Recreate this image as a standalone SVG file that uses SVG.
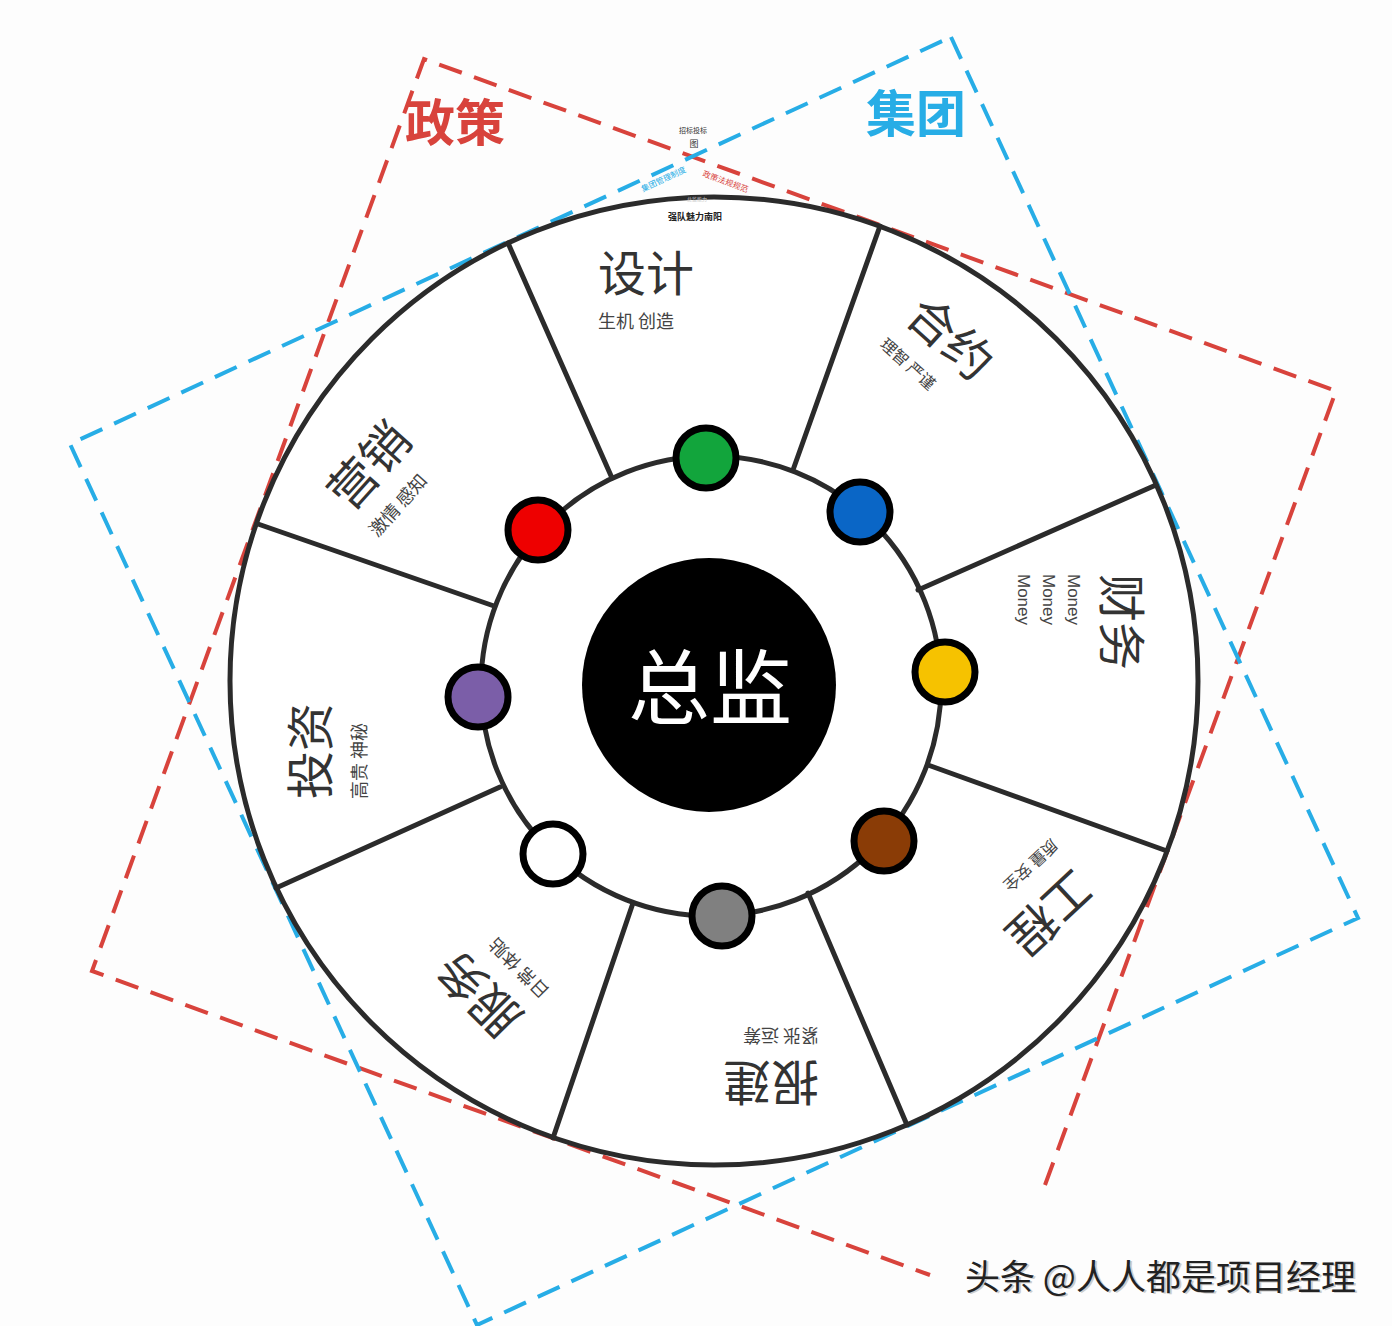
<svg xmlns="http://www.w3.org/2000/svg" width="1392" height="1326" viewBox="0 0 1392 1326">
<style>
.cjk{font-family:"Noto Sans CJK SC","Noto Sans",sans-serif}
.main{font-size:48px;fill:#333}
.sub{font-size:18px;fill:#444}
.sub16{font-size:16px;fill:#444}
.lat{font-family:"Liberation Sans",Arial,sans-serif;font-size:17px;fill:#444}
.spoke{stroke:#2b2b2b;stroke-width:5;stroke-linecap:round}
.dot{stroke:#000;stroke-width:7}
.red{fill:none;stroke:#d8433c;stroke-width:4;stroke-dasharray:24 13}
.blue{fill:none;stroke:#27ade6;stroke-width:4;stroke-dasharray:24 13}
</style>
<rect width="1392" height="1326" fill="#fdfdfd"/>
<g id="frames">
<path class="red" d="M1045 1185 L1336 391 L424 59 L92 971 L930 1275"/>
<path class="blue" d="M951 37 L1358 918 L477 1325 L70 444 Z"/>
</g>
<g id="frame-labels" class="cjk">
<text x="405" y="141" style="font-size:50px;font-weight:bold;fill:#d8433c">政策</text>
<text x="866" y="132" style="font-size:50px;font-weight:bold;fill:#27ade6">集团</text>
<text x="693" y="133" text-anchor="middle" style="font-size:7px;fill:#333">招标投标</text>
<text x="694" y="147" text-anchor="middle" style="font-size:9px;fill:#333">图</text>
<text transform="translate(643,192) rotate(-25)" style="font-size:8px;fill:#27ade6">集团管理制度</text>
<text transform="translate(702,176) rotate(20)" style="font-size:8px;fill:#d8433c">政策法规规范</text>
</g>
<g id="wheel">
<circle cx="714" cy="681" r="484" fill="#fff" stroke="#2b2b2b" stroke-width="5"/>
<circle cx="711" cy="686" r="230" fill="#fff" stroke="#2b2b2b" stroke-width="5"/>
<text x="697" y="201" text-anchor="middle" class="cjk" style="font-size:5px;fill:#ccc">总监能力</text>
<text x="695" y="220" text-anchor="middle" class="cjk" style="font-size:9px;font-weight:bold;fill:#222">强队魅力南阳</text>
</g>
<g id="connectors">
<line class="spoke" x1="508" y1="243" x2="612" y2="478"/>
<line class="spoke" x1="880" y1="226" x2="793" y2="470"/>
<line class="spoke" x1="1156" y1="485" x2="918" y2="590"/>
<line class="spoke" x1="1167" y1="851" x2="928" y2="765"/>
<line class="spoke" x1="907" y1="1125" x2="808" y2="893"/>
<line class="spoke" x1="553" y1="1138" x2="633" y2="903"/>
<line class="spoke" x1="276" y1="888" x2="500" y2="787"/>
<line class="spoke" x1="258" y1="524" x2="494" y2="606"/>
</g>
<g id="center">
<circle cx="709" cy="685" r="127" fill="#000"/>
<text x="710" y="718" text-anchor="middle" class="cjk" style="font-size:82px;fill:#fff">总监</text>
</g>
<g id="dots">
<circle class="dot" cx="706" cy="458" r="30" fill="#12a53c"/>
<circle class="dot" cx="860" cy="512" r="30" fill="#0a66c6"/>
<circle class="dot" cx="945" cy="672" r="30" fill="#f6c200"/>
<circle class="dot" cx="884" cy="841" r="30" fill="#8a3c06"/>
<circle class="dot" cx="722" cy="916" r="30" fill="#808080"/>
<circle class="dot" cx="553" cy="854" r="30" fill="#ffffff"/>
<circle class="dot" cx="478" cy="697" r="30" fill="#7b5ea8"/>
<circle class="dot" cx="538" cy="530" r="30" fill="#ee0000"/>
</g>
<g id="seg-sheji" class="cjk" transform="translate(598,291)">
<text class="main">设计</text><text class="sub" y="37">生机 创造</text>
</g>
<g id="seg-heyue" class="cjk" transform="translate(903,319) rotate(42)">
<text class="main">合约</text><text class="sub16" y="36">理智 严谨</text>
</g>
<g id="seg-caiwu" class="cjk" transform="translate(1104,574) rotate(90)">
<text class="main">财务</text>
<text class="lat" y="36">Money</text><text class="lat" y="61">Money</text><text class="lat" y="86">Money</text>
</g>
<g id="seg-gongcheng" class="cjk" transform="translate(1073,867) rotate(137)">
<text class="main">工程</text><text class="sub16" y="36" x="-4">质量 安全</text>
</g>
<g id="seg-baojian" class="cjk" transform="translate(819,1065) rotate(180)">
<text class="main">报建</text><text class="sub" y="36">紧张 运筹</text>
</g>
<g id="seg-fuwu" class="cjk" transform="translate(525,1016) rotate(225)">
<text class="main">服务</text><text class="sub" y="36">日常 体贴</text>
</g>
<g id="seg-touzi" class="cjk" transform="translate(328,799) rotate(270)">
<text class="main">投资</text><text class="sub" y="38">高贵 神秘</text>
</g>
<g id="seg-yingxiao" class="cjk" transform="translate(350,513) rotate(312)">
<text class="main">营销</text><text class="sub" y="37">激情 感知</text>
</g>
<g id="watermark" class="cjk">
<text x="967" y="1291" style="font-size:35px;fill:#ccc">头条 @人人都是项目经理</text>
<text x="965" y="1290" style="font-size:35px;fill:#222">头条 @人人都是项目经理</text>
</g>
</svg>
